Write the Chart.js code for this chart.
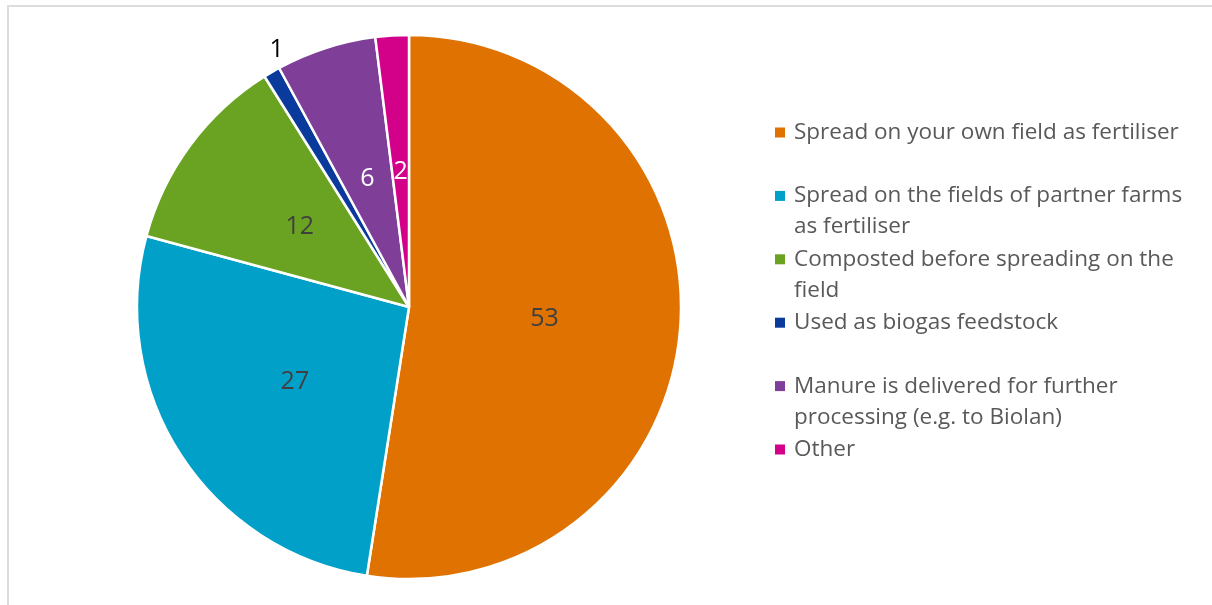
<!DOCTYPE html>
<html>
<head>
<meta charset="utf-8">
<script src="https://cdn.jsdelivr.net/npm/chart.js@4.4.1/dist/chart.umd.min.js"></script>
<style>
  html, body { margin: 0; padding: 0; background: #fff; }
  #wrap { position: relative; width: 1212px; height: 605px; overflow: hidden; }
  #frame { position: absolute; left: 7px; top: 5px; width: 1300px; height: 700px;
           border-top: 2px solid #dcdcdc; border-left: 2px solid #dcdcdc; box-sizing: border-box; }
  canvas { position: absolute; left: 0; top: 0; }
</style>
</head>
<body>
<div id="wrap">
  <div id="frame"></div>
  <canvas id="c" width="1212" height="605"></canvas>
</div>
<script>
// Manure handling categories (legend text, line-broken as shown)
const categories = [
  ["Spread on your own field as fertiliser"],
  ["Spread on the fields of partner farms", "as fertiliser"],
  ["Composted before spreading on the", "field"],
  ["Used as biogas feedstock"],
  ["Manure is delivered for further", "processing (e.g. to Biolan)"],
  ["Other"]
];
// Share of respondents, %
const shares = [53, 27, 12, 1, 6, 2];
const sliceColors = ["#df7200", "#00a0c8", "#6aa221", "#0a3a9c", "#7f3f99", "#d3008a"];
const valueLabelColors = ["#404040", "#404040", "#404040", "#000000", "#ffffff", "#ffffff"];
const outsideLabel = [false, false, false, true, false, false];

const FONT = "'Open Sans', 'Noto Sans', sans-serif";

// Value labels: centred in the slice, or just outside the rim for thin slices
const valueLabels = {
  id: 'valueLabels',
  afterDatasetsDraw(chart) {
    const ctx = chart.ctx;
    const meta = chart.getDatasetMeta(0);
    ctx.save();
    ctx.font = "25px " + FONT;
    ctx.textAlign = 'center';
    ctx.textBaseline = 'middle';
    meta.data.forEach((arc, i) => {
      const p = arc.getProps(['x', 'y', 'startAngle', 'endAngle', 'outerRadius'], true);
      let x, y;
      if (outsideLabel[i]) {
        const mid = (p.startAngle + p.endAngle) / 2 + 0.055;
        const r = p.outerRadius + 18;
        x = p.x + Math.cos(mid) * r;
        y = p.y + Math.sin(mid) * r;
      } else {
        const c = arc.getCenterPoint();
        x = c.x; y = c.y;
      }
      ctx.fillStyle = valueLabelColors[i];
      ctx.fillText(String(chart.data.datasets[0].data[i]), x, y + 1);
    });
    ctx.restore();
  }
};

// Legend on the right with wrapped entries
const sideLegend = {
  id: 'sideLegend',
  afterDraw(chart) {
    const ctx = chart.ctx;
    const colors = chart.data.datasets[0].backgroundColor;
    const x0 = 775, top = 132.5, step = 63.4, lineH = 31;
    ctx.save();
    ctx.font = "22.5px " + FONT;
    ctx.textBaseline = 'middle';
    ctx.textAlign = 'left';
    chart.data.labels.forEach((lines, i) => {
      const y = top + i * step;
      ctx.fillStyle = colors[i];
      ctx.fillRect(x0, y - 5, 10, 10);
      ctx.fillStyle = '#595959';
      lines.forEach((t, j) => ctx.fillText(t, x0 + 19, y + j * lineH));
    });
    ctx.restore();
  }
};

new Chart(document.getElementById('c'), {
  type: 'pie',
  data: {
    labels: categories,
    datasets: [{
      data: shares,
      backgroundColor: sliceColors,
      borderColor: '#ffffff',
      borderWidth: 2.5,
      radius: 272
    }]
  },
  options: {
    responsive: false,
    animation: false,
    events: [],
    layout: { padding: { left: 0, right: 394, top: 20, bottom: 11 } },
    plugins: {
      legend: { display: false },
      tooltip: { enabled: false }
    }
  },
  plugins: [valueLabels, sideLegend]
});
</script>
</body>
</html>
